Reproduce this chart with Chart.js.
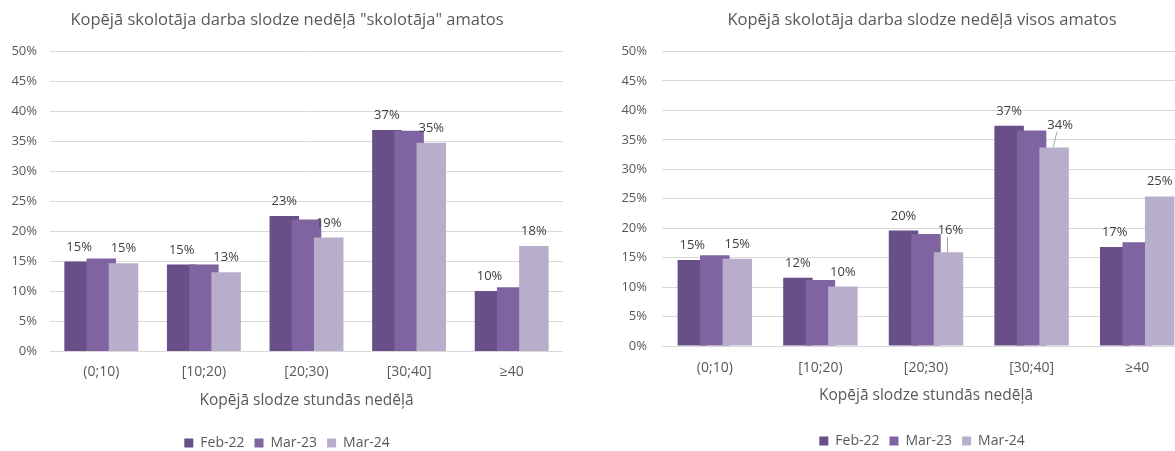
<!DOCTYPE html>
<html>
<head>
<meta charset="utf-8">
<script src="https://cdn.jsdelivr.net/npm/chart.js@4.4.1/dist/chart.umd.min.js"></script>
<style>
  html, body { margin: 0; padding: 0; background: #fff; overflow: hidden; width: 1175px; height: 451px; }
  canvas { position: absolute; top: 0; }
  #leftChart { left: -3px; }
  #rightChart { left: 612px; }
</style>
</head>
<body>
<canvas id="leftChart" width="580" height="470"></canvas>
<canvas id="rightChart" width="620" height="470"></canvas>
<script>
// categories + series (values in %)
const categories = ['(0;10)', '[10;20)', '[20;30)', '[30;40]', '≥40'];
const seriesNames = ['Feb-22', 'Mar-23', 'Mar-24'];

const teacherFeb22 = [15.0, 14.5, 22.6, 36.9, 10.1];
const teacherMar23 = [15.5, 14.5, 22.0, 36.8, 10.7];
const teacherMar24 = [14.7, 13.2, 19.0, 34.8, 17.6];

const allFeb22 = [14.6, 11.6, 19.6, 37.4, 16.8];
const allMar23 = [15.4, 11.2, 19.0, 36.6, 17.6];
const allMar24 = [14.8, 10.1, 15.9, 33.7, 25.4];

const yMax = 50;
const yStep = 5;

const colors = ['#684f87', '#8063a1', '#b8aecb'];
const textColor = '#595959';
const FONT = '"Open Sans", sans-serif';

Chart.defaults.font.family = FONT;

// draw series left-to-right so the later bar overlaps the earlier one, then the value labels
const overlapBars = {
  id: 'overlapBars',
  beforeDatasetsDraw(chart) {
    chart.data.datasets.forEach((ds, i) => {
      const meta = chart.getDatasetMeta(i);
      if (!meta.hidden) meta.controller.draw();
    });
    return false;
  },
  afterDraw(chart, args, opts) {
    const ctx = chart.ctx;
    ctx.save();
    ctx.font = '13px ' + FONT;
    ctx.textAlign = 'center';
    ctx.textBaseline = 'alphabetic';
    opts.labelled.forEach(di => {
      const meta = chart.getDatasetMeta(di);
      meta.data.forEach((bar, j) => {
        const v = chart.data.datasets[di].data[j];
        const shift = opts.shifts[di + '-' + j];
        let x = bar.x, y = bar.y - 11;
        if (shift) {
          x += shift[0];
          y += shift[1];
          ctx.strokeStyle = '#a6a6a6';
          ctx.lineWidth = 1;
          ctx.beginPath();
          ctx.moveTo(x - 3, y + 3);
          ctx.lineTo(bar.x - 1, bar.y);
          ctx.stroke();
        }
        ctx.fillStyle = '#404040';
        ctx.fillText(Math.round(v) + '%', x, y);
      });
    });
    ctx.restore();
  }
};

function buildChart(id, title, values, o) {
  return new Chart(document.getElementById(id), {
    type: 'bar',
    data: {
      labels: categories,
      datasets: seriesNames.map((name, i) => ({
        label: name,
        data: values[i],
        backgroundColor: colors[i],
        borderWidth: 0,
        categoryPercentage: o.catPct,
        barPercentage: o.barPct
      }))
    },
    options: {
      responsive: false,
      animation: false,
      layout: { padding: { top: 10, right: 0, bottom: o.padBottom, left: 0 } },
      scales: {
        x: {
          grid: { display: false, drawTicks: false },
          border: { display: false },
          ticks: { color: textColor, font: { size: 14 }, padding: o.xTickPad },
          title: {
            display: true,
            text: 'Kopējā slodze stundās nedēļā',
            color: textColor,
            font: { size: 15.5 },
            padding: { top: 0, bottom: o.xTitlePad }
          },
          afterFit: s => { s.height = o.xHeight; }
        },
        y: {
          min: 0,
          max: yMax,
          ticks: { stepSize: yStep, callback: v => v + '%', color: textColor, font: { size: 13 }, padding: o.yTickPad },
          grid: { color: '#d9d9d9', drawTicks: false },
          border: { display: false },
          afterFit: s => { s.width = o.yWidth; }
        },
        spacer: {
          position: 'right',
          ticks: { display: false },
          grid: { display: false },
          border: { display: false },
          afterFit: s => { s.width = o.rightGap; }
        }
      },
      plugins: {
        title: {
          display: true,
          text: title,
          color: textColor,
          font: { size: 16.5, weight: 'normal' },
          padding: { top: 0, bottom: o.titleGap }
        },
        legend: {
          position: 'bottom',
          labels: {
            boxWidth: 9,
            boxHeight: 9,
            color: textColor,
            font: { size: 14 },
            padding: 10,
            sort: (a, b) => a.datasetIndex - b.datasetIndex
          }
        },
        tooltip: { enabled: false },
        overlapBars: o.labels
      }
    },
    plugins: [overlapBars]
  });
}

buildChart('leftChart', 'Kopējā skolotāja darba slodze nedēļā "skolotāja" amatos',
  [teacherFeb22, teacherMar23, teacherMar24], {
    catPct: 0.649, barPct: 1.33,
    yWidth: 53, yTickPad: 13, rightGap: 14,
    titleGap: 21.7, xHeight: 74.5, xTickPad: 12.5, xTitlePad: 16, padBottom: 10,
    labels: { labelled: [0, 2], shifts: {} }
  });

buildChart('rightChart', 'Kopējā skolotāja darba slodze nedēļā visos amatos',
  [allFeb22, allMar23, allMar24], {
    catPct: 0.639, barPct: 1.31,
    yWidth: 50, yTickPad: 15, rightGap: 42,
    titleGap: 21.7, xHeight: 78, xTickPad: 14, xTitlePad: 19, padBottom: 12,
    labels: { labelled: [0, 2], shifts: { '2-2': [2, -7], '2-3': [6, -8] } }
  });
</script>
</body>
</html>
